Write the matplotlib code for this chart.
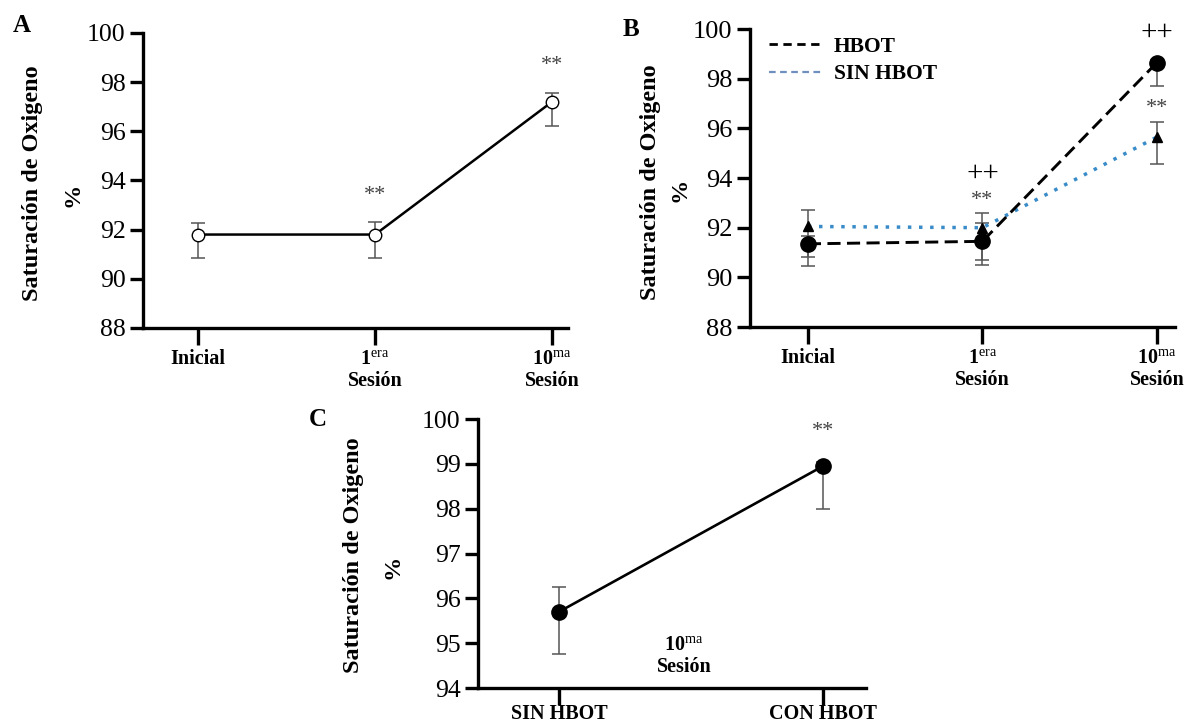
import matplotlib
matplotlib.use("Agg")
import matplotlib.pyplot as plt
from matplotlib.lines import Line2D

plt.rcParams['font.family'] = ['Liberation Serif', 'DejaVu Serif']
plt.rcParams['mathtext.fontset'] = 'custom'
plt.rcParams['mathtext.rm'] = 'Liberation Serif'
plt.rcParams['mathtext.bf'] = 'Liberation Serif:bold'
plt.rcParams['mathtext.it'] = 'Liberation Serif:italic'

# --- data ---------------------------------------------------------------
sessions = [0, 1, 2]
sess_main = ["Inicial", "1", "10"]
sess_sup = ["", "era", "ma"]
sess_line2 = ["", "Sesión", "Sesión"]

# panel A (all patients)
a_mean = [91.8, 91.8, 97.2]
a_up = [0.45, 0.5, 0.35]
a_dn = [0.95, 0.95, 1.0]

# panel B
hbot_mean = [91.35, 91.45, 98.65]
hbot_up = [0.3, 0.75, 0.1]
hbot_dn = [0.55, 0.75, 0.95]
sin_mean = [92.05, 92.0, 95.65]
sin_up = [0.65, 0.6, 0.6]
sin_dn = [1.6, 1.5, 1.1]

# panel C (10ma sesion)
groups_c = [0, 1]
groups_c_labels = ["SIN HBOT", "CON HBOT"]
c_mean = [95.7, 98.95]
c_up = [0.55, 0.1]
c_dn = [0.95, 0.95]

yticks_ab = [88, 90, 92, 94, 96, 98, 100]
yticks_c = [94, 95, 96, 97, 98, 99, 100]

ERR = '#555555'
BLUE = '#3a8cc9'


def style_axes(ax, ylim, yticks, xlim, xticks, fs):
    for s in ['top', 'right']:
        ax.spines[s].set_visible(False)
    for s in ['left', 'bottom']:
        ax.spines[s].set_linewidth(2.4)
    ax.set_ylim(ylim)
    ax.set_yticks(yticks)
    ax.set_xlim(xlim)
    ax.set_xticks(xticks)
    ax.tick_params(axis='y', length=9.5, width=2.4, pad=3, labelsize=fs)
    ax.tick_params(axis='x', length=12, width=2.4, labelbottom=False)


def ylabel(ax, x1, y1, x2, y2):
    ax.text(x1, y1, "Saturación de Oxigeno", transform=ax.transAxes, rotation=90,
            ha='center', va='center', fontsize=17.5, fontweight='bold')
    ax.text(x2, y2, "%", transform=ax.transAxes, rotation=90,
            ha='center', va='center', fontsize=17.5, fontweight='bold')


def xlabels(ax, xs, mains, sups, line2, fs=14.5, off1=26, off2=42):
    for x, m, s, l2 in zip(xs, mains, sups, line2):
        txt = m if not s else r"$\mathbf{%s}^{\mathrm{%s}}$" % (m, s)
        ax.annotate(txt, xy=(x, 0), xycoords=('data', 'axes fraction'),
                    xytext=(0, -off1), textcoords='offset points', ha='center',
                    va='baseline', fontsize=fs, fontweight='bold', annotation_clip=False)
        if l2:
            ax.annotate(l2, xy=(x, 0), xycoords=('data', 'axes fraction'),
                        xytext=(0, -off2), textcoords='offset points', ha='center',
                        va='baseline', fontsize=fs, fontweight='bold', annotation_clip=False)


fig = plt.figure(figsize=(11.94, 7.24), dpi=100)

# ---------------- A ----------------
axA = fig.add_axes([0.1198, 0.5470, 0.3559, 0.4075])
style_axes(axA, (88, 100), yticks_ab, (-0.311, 2.09), sessions, 18.5)
axA.errorbar(sessions, a_mean, yerr=[a_dn, a_up], fmt='none', ecolor=ERR,
             elinewidth=1.1, capsize=5, capthick=1.1, zorder=1)
axA.plot(sessions, a_mean, color='black', lw=1.8, marker='o', ms=9,
         mfc='white', mec='black', mew=1.0, zorder=3)
axA.text(1, 93.4, "**", ha='center', va='center', fontsize=16, color='#444444')
axA.text(2, 98.66, "**", ha='center', va='center', fontsize=16, color='#444444')
ylabel(axA, -0.259, 0.49, -0.165, 0.45)
xlabels(axA, sessions, sess_main, sess_sup, sess_line2)

# ---------------- B ----------------
axB = fig.add_axes([0.6281, 0.5483, 0.3559, 0.4116])
style_axes(axB, (88, 100), yticks_ab, (-0.332, 2.103), sessions, 19)
axB.errorbar(sessions, sin_mean, yerr=[sin_dn, sin_up], fmt='none', ecolor=ERR,
             elinewidth=1.1, capsize=5, capthick=1.1, zorder=1)
axB.errorbar(sessions, hbot_mean, yerr=[hbot_dn, hbot_up], fmt='none', ecolor=ERR,
             elinewidth=1.1, capsize=5, capthick=1.1, zorder=1)
axB.plot(sessions, sin_mean, color=BLUE, lw=2.5, ls=(0, (1, 2.2)), zorder=2)
axB.plot(sessions, sin_mean, ls='none', marker='^', ms=6.5, color='black', zorder=4)
axB.plot(sessions, hbot_mean, color='black', lw=2.1, ls=(0, (4.5, 2.2)), marker='o',
         ms=11, mfc='black', mec='black', zorder=3)
axB.text(1, 94.16, "++", ha='center', va='center', fontsize=21, color='black')
axB.text(1, 93.11, "**", ha='center', va='center', fontsize=16, color='#444444')
axB.text(2, 99.84, "++", ha='center', va='center', fontsize=21, color='black')
axB.text(2, 96.82, "**", ha='center', va='center', fontsize=16, color='#444444')
handles = [Line2D([0], [0], color='black', lw=2.0, ls=(0, (3, 2))),
           Line2D([0], [0], color='#6f8fbf', lw=1.6, ls=(0, (3, 2)))]
axB.legend(handles, ["HBOT", "SIN HBOT"], loc='upper left', bbox_to_anchor=(0.045, 0.975),
           frameon=False, prop={'weight': 'bold', 'size': 15.5}, handlelength=2.4,
           handletextpad=0.6, labelspacing=0.35, borderpad=0, borderaxespad=0)
ylabel(axB, -0.233, 0.485, -0.165, 0.46)
xlabels(axB, sessions, sess_main, sess_sup, sess_line2)

# ---------------- C ----------------
axC = fig.add_axes([0.4003, 0.0497, 0.3250, 0.3715])
style_axes(axC, (94, 100), yticks_c, (-0.307, 1.163), groups_c, 18.5)
axC.errorbar(groups_c, c_mean, yerr=[c_dn, c_up], fmt='none', ecolor=ERR,
             elinewidth=1.1, capsize=5, capthick=1.1, zorder=1)
axC.plot(groups_c, c_mean, color='black', lw=1.9, marker='o', ms=11,
         mfc='black', mec='black', zorder=3)
axC.text(1, 99.73, "**", ha='center', va='center', fontsize=16, color='#444444')
axC.text(0.473, 94.96, r"$\mathbf{10}^{\mathrm{ma}}$", ha='center', va='center',
         fontsize=14.5, fontweight='bold')
axC.text(0.473, 94.47, "Sesión", ha='center', va='center', fontsize=14.5, fontweight='bold')
ylabel(axC, -0.322, 0.494, -0.218, 0.45)
xlabels(axC, groups_c, groups_c_labels, ["", ""], ["", ""], off1=22)

# panel letters
fig.text(22 / 1194, 1 - 25 / 724, "A", fontsize=18, fontweight='bold', ha='center', va='center')
fig.text(631 / 1194, 1 - 30 / 724, "B", fontsize=18, fontweight='bold', ha='center', va='center')
fig.text(318 / 1194, 1 - 420 / 724, "C", fontsize=18, fontweight='bold', ha='center', va='center')

fig.savefig("out.png", dpi=100)
